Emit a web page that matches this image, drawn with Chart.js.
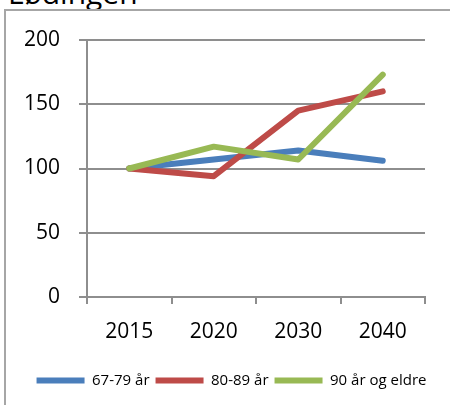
<!DOCTYPE html>
<html lang="no">
<head>
<meta charset="UTF-8">
<title>Lødingen</title>
<script src="https://cdn.jsdelivr.net/npm/chart.js"></script>
<style>
    html, body { margin: 0; padding: 0; background: #fff; }
    .wrap { position: relative; width: 450px; height: 405px; overflow: hidden; background: #fff; }
    .frame { position: absolute; left: 4px; top: 9px; width: 460px; height: 420px;
             border-left: 2px solid #a6a6a6; border-top: 2px solid #a6a6a6; }
    .title { position: absolute; left: 8px; top: -28px; font: 30px "Open Sans", sans-serif; color: #000; }
    canvas { position: absolute; left: 0; top: 0; }
</style>
</head>
<body>
<div class="wrap">
    <div class="title">Lødingen</div>
    <div class="frame"></div>
    <canvas id="chart" width="450" height="405"></canvas>
</div>
<script>
const years = ['2015', '2020', '2030', '2040'];
const age67to79 = [100, 107, 114, 106];
const age80to89 = [100, 94, 145, 160];
const age90plus = [100, 117, 107, 173];
const yTicks = [0, 50, 100, 150, 200];

const gridColor = '#8e8e8e';
const font = "'Open Sans', sans-serif";

function series(label, data, color, order) {
    return {
        label: label,
        data: data,
        borderColor: color,
        backgroundColor: color,
        borderWidth: 6,
        borderCapStyle: 'round',
        borderJoinStyle: 'round',
        pointRadius: 0,
        pointStyle: 'line',
        tension: 0,
        order: order
    };
}

// the legend in the original sits a bit right of the plot's centre
const legendShift = {
    id: 'legendShift',
    afterLayout(chart) {
        chart.legend.left += 19;
        chart.legend.right += 19;
    }
};

new Chart(document.getElementById('chart'), {
    type: 'line',
    data: {
        labels: years,
        datasets: [
            series('67-79 år', age67to79, '#4a7ebb', 3),
            series('80-89 år', age80to89, '#be4b48', 2),
            series('90 år og eldre', age90plus, '#98b954', 1)
        ]
    },
    plugins: [legendShift],
    options: {
        responsive: false,
        animation: false,
        layout: { padding: { left: 0, right: 25, top: 40, bottom: 7 } },
        plugins: {
            tooltip: { enabled: false },
            legend: {
                position: 'bottom',
                labels: {
                    usePointStyle: true,
                    pointStyle: 'line',
                    pointStyleWidth: 48,
                    padding: 6,
                    color: '#000',
                    font: { family: font, size: 15 },
                    sort: (a, b) => a.datasetIndex - b.datasetIndex
                }
            }
        },
        scales: {
            x: {
                offset: true,
                afterFit: axis => { axis.height = 70; },
                grid: { offset: true, drawOnChartArea: false, drawTicks: true, tickLength: 7, color: gridColor, lineWidth: 2 },
                border: { display: true, color: gridColor, width: 2 },
                ticks: { color: '#000', font: { family: font, size: 21 }, padding: 15 }
            },
            y: {
                min: 0,
                max: 200,
                afterFit: axis => { axis.width = 87; },
                afterBuildTicks: axis => { axis.ticks = yTicks.map(v => ({ value: v })); },
                grid: { color: gridColor, lineWidth: 2, tickLength: 8 },
                border: { display: true, color: gridColor, width: 2 },
                ticks: { color: '#000', font: { family: font, size: 21 }, padding: 19 }
            }
        }
    }
});
</script>
</body>
</html>
